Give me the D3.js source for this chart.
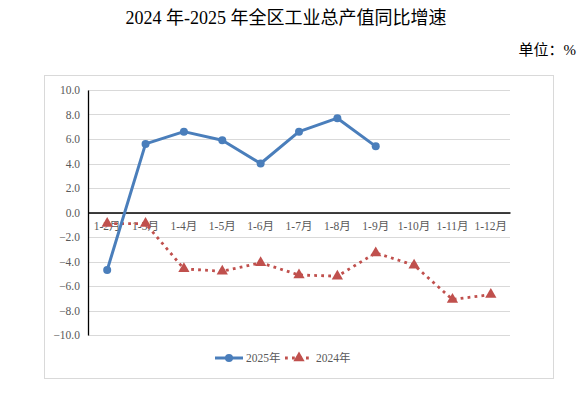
<!DOCTYPE html>
<html>
<head>
<meta charset="utf-8">
<script src="https://cdn.jsdelivr.net/npm/d3@7"></script>
<style>
  body { margin: 0; background: #fff; }
  svg text { font-family: "Liberation Serif", "Times New Roman", "Noto Sans CJK SC", serif !important; }
</style>
</head>
<body>
<div id="chart"></div>
<script>
// data
var months = ["1-2月", "1-3月", "1-4月", "1-5月", "1-6月", "1-7月", "1-8月", "1-9月", "1-10月", "1-11月", "1-12月"];
var values2025 = [-4.7, 5.6, 6.6, 5.9, 4.0, 6.6, 7.7, 5.4, null, null, null];
var values2024 = [-0.9, -0.9, -4.6, -4.8, -4.1, -5.1, -5.2, -3.3, -4.3, -7.1, -6.7];
var yTicks = [10, 8, 6, 4, 2, 0, -2, -4, -6, -8, -10];

var W = 579, H = 394;
var margin = {top: 90, right: 69, bottom: 59, left: 88};
var width = W - margin.left - margin.right,
    height = H - margin.top - margin.bottom;

var svg = d3.select("#chart").append("svg")
  .attr("width", W).attr("height", H);

// title
svg.append("text")
  .attr("x", 286).attr("y", 24)
  .attr("text-anchor", "middle")
  .attr("font-size", 18).attr("fill", "#000")
  .text("2024 年-2025 年全区工业总产值同比增速");

svg.append("text")
  .attr("x", 576).attr("y", 55)
  .attr("text-anchor", "end")
  .attr("font-size", 15).attr("fill", "#000")
  .text("单位：%");

// chart frame
svg.append("rect")
  .attr("x", 44.5).attr("y", 75.5)
  .attr("width", 509).attr("height", 303)
  .attr("fill", "none").attr("stroke", "#d9d9d9");

var g = svg.append("g")
  .attr("transform", "translate(" + margin.left + "," + margin.top + ")");

var x = d3.scaleBand().domain(months).range([0, width]);
var y = d3.scaleLinear().domain([-10, 10]).range([height, 0]);

// gridlines
g.selectAll(".grid").data(yTicks).enter().append("line")
  .attr("x1", 0).attr("x2", width)
  .attr("y1", function(d) { return Math.round(y(d)) + 0.5; })
  .attr("y2", function(d) { return Math.round(y(d)) + 0.5; })
  .attr("stroke", "#d9d9d9");

// y axis
var yAxis = g.append("g")
  .call(d3.axisLeft(y).tickValues(yTicks).tickSize(0).tickPadding(8)
    .tickFormat(d3.format(".1f")));
yAxis.select(".domain").attr("stroke", "#000").attr("stroke-width", 1.3);
yAxis.selectAll("text").attr("font-size", 11.5).attr("fill", "#595959");

// zero line with category labels
var xAxis = g.append("g")
  .attr("transform", "translate(0," + y(0) + ")")
  .call(d3.axisBottom(x).tickSize(0).tickPadding(9));
xAxis.select(".domain").attr("stroke", "#000").attr("stroke-width", 1.3);
xAxis.selectAll("text").attr("font-size", 11.5).attr("fill", "#595959");

var cx = function(d, i) { return x(months[i]) + x.bandwidth() / 2; };

// 2024 series
var line = d3.line()
  .defined(function(d) { return d != null; })
  .x(cx)
  .y(function(d) { return y(d); });

g.append("path").datum(values2024)
  .attr("d", line)
  .attr("fill", "none").attr("stroke", "#c0504d")
  .attr("stroke-width", 2.8)
  .attr("stroke-dasharray", "2.8,4.2");

var tri = d3.symbol().type(d3.symbolTriangle).size(55);
g.selectAll(".t24").data(values2024).enter().append("path")
  .attr("d", tri)
  .attr("transform", function(d, i) { return "translate(" + cx(d, i) + "," + y(d) + ")"; })
  .attr("fill", "#c0504d");

// 2025 series
g.append("path").datum(values2025)
  .attr("d", line)
  .attr("fill", "none").attr("stroke", "#4a7ebb")
  .attr("stroke-width", 3).attr("stroke-linejoin", "round");

g.selectAll(".c25").data(values2025.filter(function(d) { return d != null; })).enter().append("circle")
  .attr("cx", cx).attr("cy", function(d) { return y(d); })
  .attr("r", 4).attr("fill", "#4a7ebb");

// legend
var lg = svg.append("g").attr("transform", "translate(0,358)");
lg.append("line").attr("x1", 215).attr("x2", 243).attr("y1", 0).attr("y2", 0)
  .attr("stroke", "#4a7ebb").attr("stroke-width", 3);
lg.append("circle").attr("cx", 229).attr("cy", 0).attr("r", 4).attr("fill", "#4a7ebb");
lg.append("text").attr("x", 246).attr("y", 4).attr("font-size", 11.5).attr("fill", "#595959").text("2025年");
lg.append("line").attr("x1", 285).attr("x2", 313).attr("y1", 0).attr("y2", 0)
  .attr("stroke", "#c0504d").attr("stroke-width", 2.8).attr("stroke-dasharray", "2.8,4.2");
lg.append("path").attr("d", tri).attr("transform", "translate(299,0)").attr("fill", "#c0504d");
lg.append("text").attr("x", 316).attr("y", 4).attr("font-size", 11.5).attr("fill", "#595959").text("2024年");
</script>
</body>
</html>
